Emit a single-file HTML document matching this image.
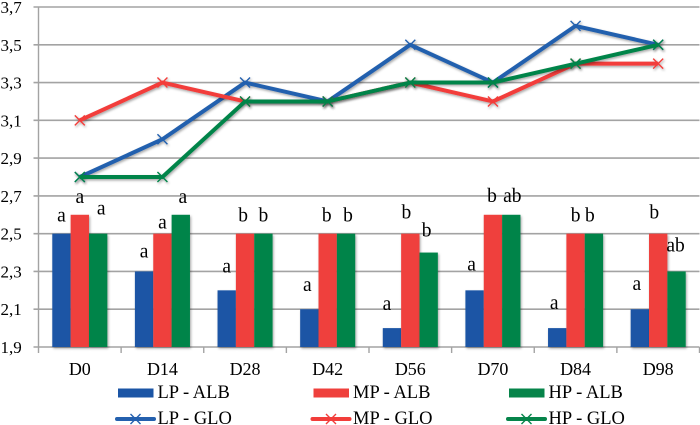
<!DOCTYPE html>
<html lang="en">
<head>
<meta charset="utf-8">
<title>Scores by day</title>
<style>
html,body{margin:0;padding:0;background:#fff;width:700px;height:425px;overflow:hidden}
svg{display:block;filter:blur(.35px)}
text{font-family:"Liberation Serif",serif;fill:#000}
</style>
</head>
<body>
<svg id="chart" xmlns="http://www.w3.org/2000/svg" width="700" height="425" viewBox="0 0 700 425">
<defs>
<filter id="markShadow" x="-20%" y="-20%" width="140%" height="140%">
<feDropShadow dx="1" dy="1.5" stdDeviation="1.2" flood-color="#000" flood-opacity=".35"/>
</filter>
</defs>
<g id="grid"></g>
<g id="axes"></g>
<g id="bars"></g>
<g id="letters"></g>
<g id="lines"></g>
<g id="legend"></g>
</svg>
<script>
const categories = ['D0','D14','D28','D42','D56','D70','D84','D98'];
const yTicks = [1.9,2.1,2.3,2.5,2.7,2.9,3.1,3.3,3.5,3.7];
const lpAlb = [2.5,2.3,2.2,2.1,2.0,2.2,2.0,2.1];
const mpAlb = [2.6,2.5,2.5,2.5,2.5,2.6,2.5,2.5];
const hpAlb = [2.5,2.6,2.5,2.5,2.4,2.6,2.5,2.3];
const lpGlo = [2.8,3.0,3.3,3.2,3.5,3.3,3.6,3.5];
const mpGlo = [3.1,3.3,3.2,3.2,3.3,3.2,3.4,3.4];
const hpGlo = [2.8,2.8,3.2,3.2,3.3,3.3,3.4,3.5];
const lpLetters = ['a','a','a','a','a','a','a','a'];
const mpLetters = ['a','a','b','b','b','b','b','b'];
const hpLetters = ['a','a','b','b','b','ab','b','ab'];

const BLUE='#1b55a5', RED='#ef403c', GREEN='#06844a';
const LINE_BLUE='#2460ae', LINE_RED='#f23d3a', LINE_GREEN='#06844a';
const NS='http://www.w3.org/2000/svg';
const plotL=38.5, plotR=699.5, plotT=7, plotB=347, yMin=1.9, yMax=3.7;
const catW=(plotR-plotL)/categories.length, barW=18.35;
const y=v=>plotB-(v-yMin)/(yMax-yMin)*(plotB-plotT);
const xc=i=>plotL+catW*(i+.5);

// hand placement of the letters relative to the top of their bars (label layout, not data)
const lpLift=[12,14,18,18,18,20,19,19];
const mpLift=[12,5,12,12,15,13,12,15];
const hpLift=[19,12,12,12,16,13,12,20];
const lpShift=[0,0,0,-2,-5,-3,-3,-3];
const mpShift=[0,0,-2,-1,-4,-1,0,-4];
const hpShift=[3,2,0,2,-2,1,-4,-1];

function el(tag,attrs,parent){
  const e=document.createElementNS(NS,tag);
  for(const k in attrs)e.setAttribute(k,attrs[k]);
  parent.appendChild(e);
  return e;
}
const grid=document.getElementById('grid'),axes=document.getElementById('axes'),
      bars=document.getElementById('bars'),letters=document.getElementById('letters'),
      lines=document.getElementById('lines'),legend=document.getElementById('legend');

yTicks.forEach(t=>{
  const g=el('line',{x1:plotL-5,x2:plotR,y1:y(t),y2:y(t),stroke:'#a3a3a3','stroke-width':1.6},grid);
  
  
  const l=el('text',{x:.5,y:y(t)+6,'font-size':17},axes);
  l.textContent=t.toFixed(1).replace('.',',');
  
  
});
const yAxis=el('line',{x1:plotL,x2:plotL,y1:plotT,y2:plotB+6,stroke:'#a3a3a3','stroke-width':1.4},axes);


categories.forEach((c,i)=>{
  const tx=plotL+catW*(i+1);
  const tk=el('line',{x1:tx,x2:tx,y1:plotB,y2:plotB+6,stroke:'#a3a3a3','stroke-width':1.4},axes);
  
  
  const l=el('text',{x:xc(i),y:plotB+28,'font-size':18,'text-anchor':'middle'},axes);
  l.textContent=c;
  
  
});

[[lpAlb,BLUE,-1,lpLetters,lpLift,lpShift],
 [mpAlb,RED,0,mpLetters,mpLift,mpShift],
 [hpAlb,GREEN,1,hpLetters,hpLift,hpShift]].forEach(s=>{
  s[0].forEach((v,i)=>{
    const cx=xc(i)+s[2]*barW;
    const r=el('rect',{x:cx-barW/2,y:y(v),width:barW,height:plotB-y(v),fill:s[1],filter:'url(#markShadow)'},bars);
    
    
    const t=el('text',{x:cx+s[5][i],y:y(v)-s[4][i],'font-size':19.5,'text-anchor':'middle'},letters);
    t.textContent=s[3][i];
    
    
  });
});

function xMark(parent,cx,cy,color,r){
  const p=el('path',{d:`M${cx-r} ${cy-r}L${cx+r} ${cy+r}M${cx-r} ${cy+r}L${cx+r} ${cy-r}`,stroke:color,'stroke-width':1.4,fill:'none'},parent);
  
  
}
[[lpGlo,LINE_BLUE],[mpGlo,LINE_RED],[hpGlo,LINE_GREEN]].forEach(s=>{
  const g=el('g',{filter:'url(#markShadow)'},lines);
  
  
  const pts=s[0].map((v,i)=>xc(i)+','+y(v)).join(' ');
  el('polyline',{points:pts,fill:'none',stroke:s[1],'stroke-width':4,'stroke-linejoin':'round'},g);
  s[0].forEach((v,i)=>xMark(g,xc(i),y(v),s[1],5));
});

[['LP - ALB',BLUE,118],['MP - ALB',RED,313.5],['HP - ALB',GREEN,509]].forEach(e=>{
  const g=el('g',{},legend);
  
  
  el('rect',{x:e[2],y:388.5,width:35.5,height:9,fill:e[1]},g);
  const t=el('text',{x:e[2]+39.5,y:398,'font-size':18.5},g);
  t.textContent=e[0];
});
[['LP - GLO',LINE_BLUE,118],['MP - GLO',LINE_RED,313.5],['HP - GLO',LINE_GREEN,509]].forEach(e=>{
  const g=el('g',{},legend);
  
  
  el('line',{x1:e[2]-1,x2:e[2]+36,y1:419,y2:419,stroke:e[1],'stroke-width':4,'stroke-linecap':'round'},g);
  xMark(g,e[2]+17.5,419,e[1],5);
  const t=el('text',{x:e[2]+39.5,y:424,'font-size':18.5},g);
  t.textContent=e[0];
});
</script>
</body>
</html>
